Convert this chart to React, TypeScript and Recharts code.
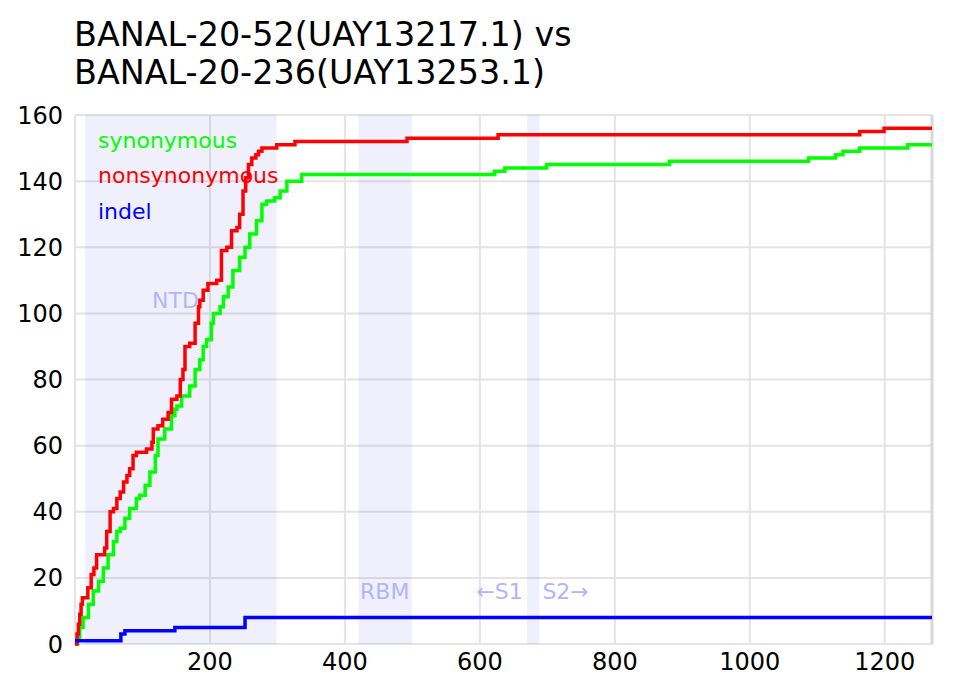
import React from "react";
import {
  LineChart,
  Line,
  XAxis,
  YAxis,
  CartesianGrid,
  ReferenceArea,
  ReferenceDot,
  ReferenceLine,
  Legend,
} from "recharts";

document.body.style.margin = "0";

// cumulative counts along the alignment
const synPos = [0, 4, 7, 12, 20, 27, 35, 42, 49, 57, 62, 67, 74, 81, 91, 96, 104, 111, 119, 123, 133, 143, 148, 151, 158, 170, 178, 185, 190, 195, 202, 205, 215, 220, 227, 234, 244, 252, 259, 269, 277, 284, 296, 304, 314, 336, 622, 637, 699, 881, 1087, 1127, 1138, 1163, 1234, 1270];
const synCount = [0, 2, 5, 8, 12, 16, 19, 23, 27, 31, 34, 35, 38, 41, 44, 45, 48, 52, 57, 62, 65, 69, 71, 72, 75, 78, 83, 86, 90, 92, 97, 100, 102, 105, 108, 113, 117, 120, 124, 128, 133, 134, 135, 137, 140, 142, 143, 144, 145, 146, 147, 148, 149, 150, 151, 151];

const nonsynPos = [0, 3, 5, 7, 9, 11, 19, 24, 28, 32, 44, 47, 52, 57, 62, 67, 72, 77, 81, 86, 91, 106, 114, 116, 123, 130, 138, 143, 151, 156, 160, 163, 170, 178, 183, 185, 190, 197, 210, 217, 225, 232, 240, 244, 249, 253, 257, 262, 268, 272, 277, 299, 326, 492, 627, 1163, 1199, 1270];
const nonsynCount = [0, 3, 6, 9, 12, 14, 17, 21, 23, 27, 29, 34, 40, 41, 44, 46, 49, 51, 53, 57, 58, 59, 61, 65, 66, 68, 70, 74, 75, 80, 83, 90, 91, 97, 102, 104, 107, 109, 110, 119, 120, 125, 126, 130, 137, 141, 145, 147, 148, 149, 150, 151, 152, 153, 154, 155, 156, 156];

const indelPos = [0, 68, 74, 148, 252, 1270];
const indelCount = [1, 3, 4, 5, 8, 8];

const xTicks = [200, 400, 600, 800, 1000, 1200];
const yTicks = [0, 20, 40, 60, 80, 100, 120, 140, 160];

const regions = [
  { x1: 15, x2: 299 },
  { x1: 420, x2: 499 },
  { x1: 670, x2: 688 },
];
const notes = [
  { x: 149, y: 104, text: "NTD" },
  { x: 459, y: 16, text: "RBM" },
  { x: 629, y: 16, text: "\u2190S1" },
  { x: 727, y: 16, text: "S2\u2192" },
];

const legendItems = [
  { name: "synonymous", color: "#00ff00" },
  { name: "nonsynonymous", color: "#ff0000" },
  { name: "indel", color: "#0000ff" },
];

const toPoints = (pos: number[], count: number[]) =>
  pos.map((p, i) => ({ pos: p, count: count[i] }));

const synData = toPoints(synPos, synCount);
const nonsynData = toPoints(nonsynPos, nonsynCount);
const indelData = toPoints(indelPos, indelCount);

const font = "'DejaVu Sans', sans-serif";
const noteColor = "#b3b3ff";

export default function App() {
  return (
    <div style={{ position: "relative", width: 956, height: 691, fontFamily: font, background: "#fff" }}>
      <div
        style={{
          position: "absolute",
          left: 74,
          top: 16,
          fontSize: 33.4,
          lineHeight: "38px",
          color: "#000",
          zIndex: 2,
        }}
      >
        BANAL-20-52(UAY13217.1) vs
        <br />
        BANAL-20-236(UAY13253.1)
      </div>
      <LineChart
        width={956}
        height={691}
        margin={{ top: 115, right: 24, bottom: 17, left: 15 }}
      >
        {regions.map((r, i) => (
          <ReferenceArea
            key={i}
            x1={r.x1}
            x2={r.x2}
            y1={0}
            y2={160}
            fill="#3030e0"
            fillOpacity={0.07}
            stroke="none"
          />
        ))}
        <CartesianGrid stroke="#e4e4e4" strokeWidth={2} />
        <XAxis
          dataKey="pos"
          type="number"
          domain={[0, 1270]}
          ticks={xTicks}
          allowDataOverflow
          axisLine={false}
          tickLine={false}
          tickSize={0}
          tickMargin={9}
          height={30}
          tick={{ fill: "#000", fontSize: 24, fontFamily: font }}
        />
        <YAxis
          type="number"
          domain={[0, 160]}
          ticks={yTicks}
          axisLine={false}
          tickLine={false}
          tickSize={0}
          tickMargin={12}
          width={60}
          tick={{ fill: "#000", fontSize: 24, fontFamily: font }}
        />
        <ReferenceLine x={1270} stroke="#d8d8d8" strokeWidth={3} />
        {notes.map((n, i) => (
          <ReferenceDot
            key={i}
            x={n.x}
            y={n.y}
            r={0}
            fill="none"
            stroke="none"
            label={{ value: n.text, position: "center", fill: noteColor, fontSize: 22, fontFamily: font }}
          />
        ))}
        <Line
          data={synData}
          dataKey="count"
          name="synonymous"
          type="stepAfter"
          stroke="#00ff00"
          strokeWidth={3.5}
          dot={false}
          activeDot={false}
          isAnimationActive={false}
        />
        <Line
          data={nonsynData}
          dataKey="count"
          name="nonsynonymous"
          type="stepAfter"
          stroke="#ff0000"
          strokeWidth={3.5}
          dot={false}
          activeDot={false}
          isAnimationActive={false}
        />
        <Line
          data={indelData}
          dataKey="count"
          name="indel"
          type="stepAfter"
          stroke="#0000ff"
          strokeWidth={3.5}
          dot={false}
          activeDot={false}
          isAnimationActive={false}
        />
        <Legend
          layout="vertical"
          align="center"
          verticalAlign="middle"
          wrapperStyle={{ left: 98, top: 123, width: 300, height: "auto" }}
          content={() => (
            <div style={{ fontSize: 22, lineHeight: "35.4px", fontFamily: font }}>
              {legendItems.map((it) => (
                <div key={it.name} style={{ color: it.color }}>
                  {it.name}
                </div>
              ))}
            </div>
          )}
        />
      </LineChart>
    </div>
  );
}
